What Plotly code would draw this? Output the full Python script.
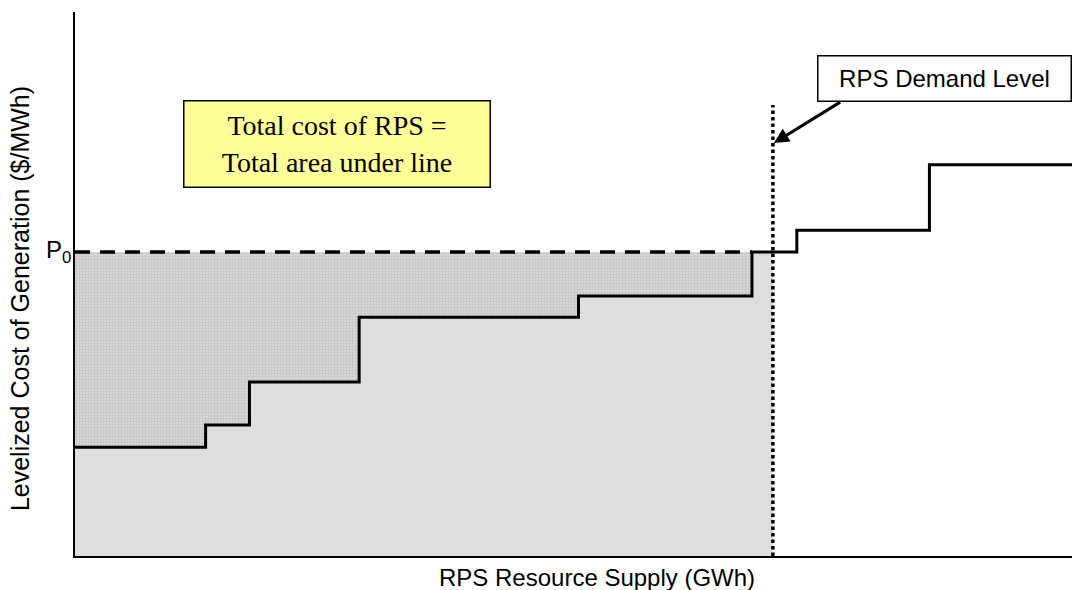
import plotly.graph_objects as go

# Supply curve (step function): start of each block and its levelized cost
step_x = [0, 13.1, 17.5, 28.5, 50.5, 67.9, 72.4, 85.7, 100]
step_y = [20.0, 24.1, 32.0, 43.9, 47.8, 55.9, 59.9, 71.9, 71.9]
p0 = 55.9            # marginal price P0
demand = 70.0        # RPS demand level (GWh)
demand_top = 82.9
arrow_tip = (70.1, 75.9)
arrow_tail = (76.9, 83.6)

# portion of the curve up to the demand level
fx, fy = [], []
for xv, yv in zip(step_x, step_y):
    if xv < demand:
        fx.append(xv)
        fy.append(yv)
fx.append(demand)
fy.append(fy[-1])

AR = "Arial, Liberation Sans, sans-serif"
fig = go.Figure()

fig.add_trace(go.Scatter(
    x=[0, demand], y=[p0, p0], mode="lines", line=dict(width=0),
    fill="tozeroy", fillcolor="#cfcfcf",
    fillpattern=dict(shape="+", bgcolor="#d6d6d6", fgcolor="#b0b0b0", size=3, solidity=0.35),
    hoverinfo="skip", showlegend=False))
fig.add_trace(go.Scatter(
    x=fx, y=fy, mode="lines", line=dict(width=0, shape="hv"),
    fill="tozeroy", fillcolor="#dedede", hoverinfo="skip", showlegend=False))
fig.add_trace(go.Scatter(
    x=[0, step_x[5]], y=[p0, p0], mode="lines",
    line=dict(color="black", width=3.5, dash="15px,10px"), showlegend=False))
fig.add_trace(go.Scatter(
    x=[demand, demand], y=[0, demand_top], mode="lines",
    line=dict(color="black", width=3.5, dash="3.5px,3px"), showlegend=False))
fig.add_trace(go.Scatter(
    x=step_x, y=step_y, mode="lines",
    line=dict(color="black", width=3, shape="hv"), showlegend=False))

fig.add_annotation(x=arrow_tip[0], y=arrow_tip[1], ax=arrow_tail[0], ay=arrow_tail[1],
                   xref="x", yref="y", axref="x", ayref="y", text="",
                   showarrow=True, arrowhead=2, arrowsize=1, arrowwidth=3, arrowcolor="black")
fig.add_annotation(x=87.2, y=87.7, xref="x", yref="y", text="RPS Demand Level",
                   showarrow=False, font=dict(family=AR, size=24, color="black"),
                   bgcolor="white", bordercolor="black", borderwidth=1.5,
                   width=250, height=42)
fig.add_annotation(x=26.3, y=75.8, xref="x", yref="y",
                   text="Total cost of RPS =<br>Total area under line",
                   showarrow=False, font=dict(family="Times New Roman, Liberation Serif, serif", size=28, color="black"),
                   bgcolor="#ffff99", bordercolor="black", borderwidth=1.5,
                   width=303, height=83)
# P0 label on the y axis
fig.add_annotation(x=0, y=p0, xref="x", yref="y", text="P<sub>0</sub>",
                   showarrow=False, xanchor="right", yanchor="middle", xshift=-2,
                   font=dict(family=AR, size=24, color="black"))
fig.add_annotation(x=0.5236, y=-0.04, xref="paper", yref="paper",
                   text="RPS Resource Supply (GWh)", showarrow=False,
                   font=dict(family=AR, size=24, color="black"), yanchor="middle")
fig.add_annotation(x=-0.0552, y=0.474, xref="paper", yref="paper",
                   text="Levelized Cost of Generation ($/MWh)", showarrow=False, textangle=-90,
                   font=dict(family=AR, size=25, color="black"), xanchor="center", yanchor="middle")

fig.update_layout(
    width=1072, height=590, margin=dict(l=75, r=0, t=12, b=34),
    plot_bgcolor="white", paper_bgcolor="white",
    xaxis=dict(range=[0, 100], showgrid=False, zeroline=False, showline=True,
               linecolor="black", linewidth=2, showticklabels=False, ticks=""),
    yaxis=dict(range=[0, 100], showgrid=False, zeroline=False, showline=True,
               linecolor="black", linewidth=2, ticks="", showticklabels=False),
)
fig.write_html("out.html", config={"displayModeBar": False},
               post_script="document.body.style.margin='0';document.body.style.overflow='hidden';")
